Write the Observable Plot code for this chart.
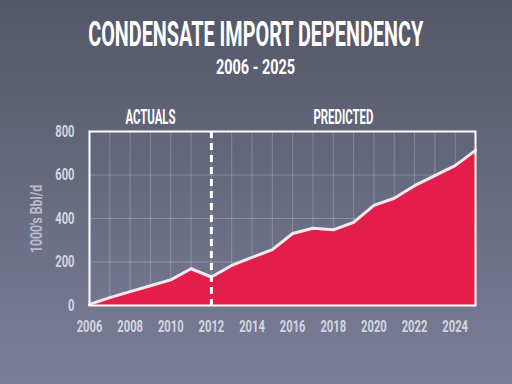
<!DOCTYPE html>
<html><head><meta charset="utf-8">
<script src="https://cdn.jsdelivr.net/npm/d3@7"></script>
<script src="https://cdn.jsdelivr.net/npm/@observablehq/plot@0.6"></script>
<style>
html,body{margin:0;padding:0;}
body{width:512px;height:384px;overflow:hidden;position:relative;background:linear-gradient(to bottom,#535767 0%,#7b7e98 100%);font-family:Roboto,sans-serif;}
#chart{position:absolute;left:0;top:0;}
.t{position:absolute;left:-500px;width:1512px;text-align:center;color:#fff;font-weight:700;white-space:nowrap;}
.t span{display:inline-block;transform-origin:center;}
#title{top:17px;font-size:35px;line-height:35px;}
#subtitle{top:57px;font-size:21px;line-height:21px;}
#ylab{position:absolute;left:36px;top:219px;color:#b9bbcb;font-weight:700;font-size:17px;white-space:nowrap;transform:translate(-50%,-50%) rotate(-90deg) scaleX(0.72);}
</style>
</head><body>
<div id="chart"></div>
<div class="t" id="title"><span>CONDENSATE IMPORT DEPENDENCY</span></div>
<div class="t" id="subtitle"><span>2006 - 2025</span></div>
<div id="ylab">1000's Bbl/d</div>
<script>
const years = [2006,2007,2008,2009,2010,2011,2012,2013,2014,2015,2016,2017,2018,2019,2020,2021,2022,2023,2024,2025];
const values = [5,36,64,91,118,169,131,184,221,257,331,355,348,382,460,493,551,597,643,713];
const xTicks = [2006,2008,2010,2012,2014,2016,2018,2020,2022,2024];
const yTicks = [0,200,400,600,800];
const yGrid = [200,400,600];
const splitYear = [2012];
const phaseLabels = ["ACTUALS","PREDICTED"];
const phaseCenters = [2009,2018.5];

const data = years.map((y,i)=>({year:y,value:values[i]}));
const phases = phaseLabels.map((l,i)=>({label:l,x:phaseCenters[i]}));

const chart = Plot.plot({
  width:512, height:384,
  marginTop:131, marginBottom:79, marginLeft:89, marginRight:37,
  style:{background:"transparent", color:"#d4d6e0", fontFamily:"Roboto, sans-serif", fontSize:"17px", fontWeight:700, overflow:"visible"},
  x:{domain:[2006,2025], label:null},
  y:{domain:[0,800], label:null},
  marks:[
    Plot.gridX(years,{stroke:"#ffffff", strokeOpacity:0.22, strokeWidth:1}),
    Plot.gridY(yGrid,{stroke:"#ffffff", strokeOpacity:0.22, strokeWidth:1}),
    Plot.areaY(data,{x:"year", y:"value", fill:"#e31e4b"}),
    Plot.lineY(data,{x:"year", y:"value", stroke:"#f3e9ec", strokeWidth:3}),
    Plot.ruleX(splitYear,{stroke:"#ffffff", strokeWidth:3, strokeDasharray:"7,5"}),
    Plot.frame({stroke:"#ffffff", strokeWidth:2}),
    Plot.axisX({ticks:xTicks, tickFormat:"d", tickSize:0, tickPadding:14, label:null}),
    Plot.axisY({ticks:yTicks, tickSize:0, tickPadding:15, label:null}),
    Plot.text(phases,{x:"x", text:"label", frameAnchor:"top", dy:-22, fill:"#ffffff", fontSize:20, fontWeight:700})
  ]
});
document.getElementById("chart").appendChild(chart);

// narrow the SVG texts around their anchor points
chart.querySelectorAll("text").forEach(t => {
  const k = t.closest('g[aria-label="text"]') ? 0.57 : 0.66;
  const tr = t.getAttribute("transform") || "";
  t.setAttribute("transform", tr + " scale(" + k + ",1)");
  const x = t.getAttribute("x");
  if (x) t.setAttribute("x", (+x) / k);
});

function fit(id, w){
  const s = document.querySelector("#"+id+" span");
  const r = s.getBoundingClientRect().width;
  s.style.transform = "scaleX(" + (w/r) + ")";
}
fit("title",335);
fit("subtitle",79);
</script>
</body></html>
